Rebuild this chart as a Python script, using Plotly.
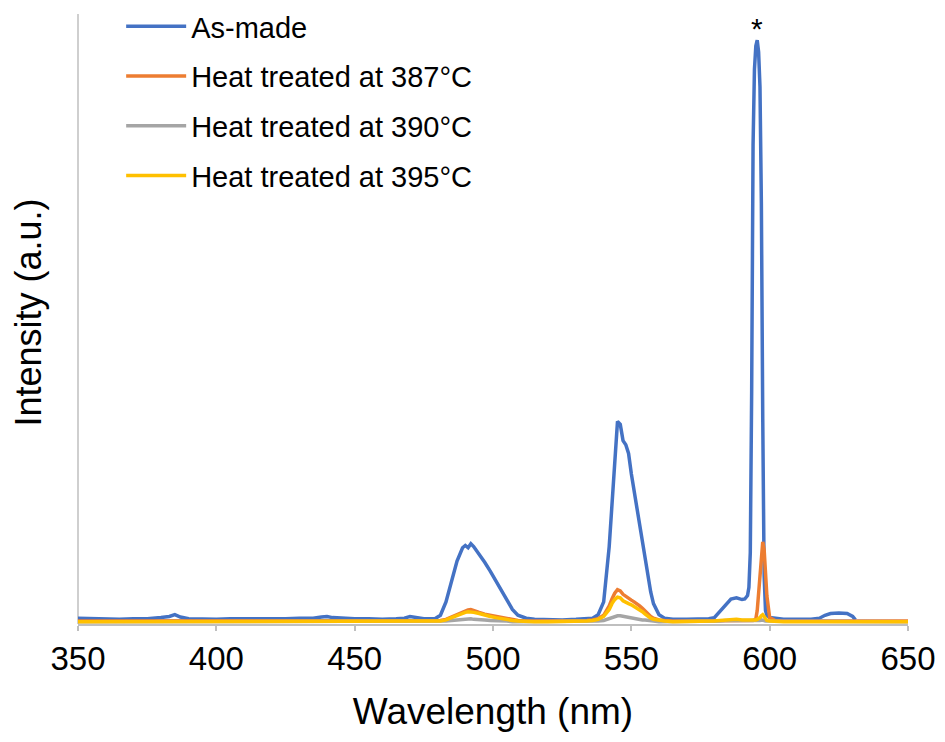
import plotly.graph_objects as go

# Wavelength grid (nm)
wavelength = [
    350, 355, 360, 365, 370, 375, 380, 383, 385, 387, 390, 395, 400, 405, 410, 415, 420, 425, 430, 435,
    438, 440, 442, 445, 450, 455, 460, 465, 468, 470, 472, 475, 479,
    481, 483, 485, 487, 489, 490, 491, 492, 493, 495, 497, 499, 501, 503, 505, 507, 509, 512, 515,
    520, 525, 530, 534, 536, 538, 540, 542, 543, 544, 545, 546, 547, 548, 549, 550, 551, 552, 553, 554,
    555, 556, 557, 558, 560, 562, 565,
    570, 575, 578, 580, 582, 584, 586, 588, 590, 591, 592, 592.5, 593, 593.5, 594, 594.5, 595, 595.5,
    596, 596.5, 597, 597.5, 598, 598.5, 599, 600,
    602, 605, 610, 615, 618, 620, 622, 625, 628, 630, 631, 635, 640, 645, 650,
]

as_made = [
    0.007, 0.006, 0.006, 0.005, 0.006, 0.006, 0.008, 0.010, 0.013, 0.009, 0.006, 0.005, 0.005, 0.006, 0.006, 0.005, 0.006, 0.006, 0.007, 0.007,
    0.009, 0.010, 0.008, 0.007, 0.006, 0.006, 0.005, 0.006, 0.007, 0.010, 0.008, 0.006, 0.006,
    0.012, 0.035, 0.070, 0.105, 0.128, 0.132, 0.128, 0.135, 0.130, 0.117, 0.103, 0.088, 0.072, 0.055, 0.038, 0.022, 0.012, 0.007, 0.005,
    0.004, 0.004, 0.005, 0.006, 0.007, 0.013, 0.035, 0.130, 0.210, 0.290, 0.345, 0.340, 0.312, 0.305, 0.290, 0.255, 0.225, 0.195, 0.165, 0.135,
    0.105, 0.078, 0.052, 0.032, 0.013, 0.007, 0.005,
    0.005, 0.005, 0.006, 0.008, 0.018, 0.030, 0.040, 0.042, 0.039, 0.040, 0.046, 0.060, 0.120, 0.400, 0.820, 0.950, 0.990, 1.000,
    0.980, 0.920, 0.720, 0.350, 0.080, 0.020, 0.012, 0.008,
    0.007, 0.005, 0.005, 0.005, 0.007, 0.012, 0.015, 0.016, 0.015, 0.010, 0.004, None, None, None, None,
]

heat_387 = [
    0.002, 0.002, 0.002, 0.002, 0.002, 0.002, 0.002, 0.002, 0.003, 0.002, 0.002, 0.002, 0.002, 0.002, 0.002, 0.002, 0.002, 0.002, 0.002, 0.002,
    0.002, 0.002, 0.002, 0.002, 0.002, 0.002, 0.002, 0.002, 0.002, 0.002, 0.002, 0.002, 0.002,
    0.003, 0.005, 0.009, 0.014, 0.018, 0.020, 0.021, 0.022, 0.020, 0.017, 0.014, 0.012, 0.010, 0.008, 0.006, 0.004, 0.003, 0.002, 0.002,
    0.002, 0.002, 0.002, 0.003, 0.004, 0.006, 0.012, 0.028, 0.040, 0.050, 0.056, 0.054, 0.048, 0.044, 0.041, 0.038, 0.035, 0.032, 0.028, 0.024,
    0.019, 0.014, 0.010, 0.007, 0.004, 0.003, 0.002,
    0.002, 0.002, 0.002, 0.002, 0.003, 0.003, 0.003, 0.003, 0.003, 0.003, 0.003, 0.003, 0.003, 0.003, 0.003, 0.004, 0.006, 0.020,
    0.050, 0.080, 0.110, 0.138, 0.125, 0.090, 0.045, 0.008,
    0.003, 0.002, 0.002, 0.002, 0.002, 0.003, 0.003, 0.003, 0.003, 0.002, 0.002, 0.002, 0.002, 0.002, 0.002,
]

heat_390 = [
    0.001, 0.001, 0.001, 0.001, 0.001, 0.001, 0.001, 0.001, 0.001, 0.001, 0.001, 0.001, 0.001, 0.001, 0.001, 0.001, 0.001, 0.001, 0.001, 0.001,
    0.001, 0.001, 0.001, 0.001, 0.001, 0.001, 0.001, 0.001, 0.001, 0.001, 0.001, 0.001, 0.001,
    0.001, 0.002, 0.003, 0.004, 0.005, 0.005, 0.006, 0.006, 0.005, 0.005, 0.004, 0.003, 0.003, 0.002, 0.002, 0.001, 0.001, 0.001, 0.001,
    0.001, 0.001, 0.001, 0.001, 0.002, 0.002, 0.003, 0.006, 0.008, 0.010, 0.011, 0.011, 0.010, 0.009, 0.008, 0.008, 0.007, 0.006, 0.005, 0.004,
    0.004, 0.003, 0.002, 0.002, 0.001, 0.001, 0.001,
    0.001, 0.001, 0.001, 0.002, 0.002, 0.003, 0.003, 0.003, 0.002, 0.002, 0.002, 0.002, 0.002, 0.002, 0.002, 0.002, 0.002, 0.003,
    0.003, 0.003, 0.004, 0.004, 0.003, 0.002, 0.002, 0.001,
    0.001, 0.001, 0.001, 0.001, 0.001, 0.001, 0.002, 0.002, 0.002, 0.001, 0.001, 0.001, 0.001, 0.001, 0.001,
]

heat_395 = [
    0.001, 0.001, 0.001, 0.001, 0.001, 0.001, 0.001, 0.001, 0.001, 0.001, 0.001, 0.001, 0.001, 0.001, 0.001, 0.001, 0.001, 0.001, 0.001, 0.001,
    0.001, 0.001, 0.001, 0.001, 0.001, 0.001, 0.001, 0.001, 0.001, 0.001, 0.001, 0.001, 0.001,
    0.002, 0.004, 0.008, 0.012, 0.015, 0.017, 0.018, 0.018, 0.017, 0.015, 0.012, 0.010, 0.008, 0.006, 0.005, 0.003, 0.002, 0.001, 0.001,
    0.001, 0.001, 0.001, 0.002, 0.003, 0.005, 0.010, 0.022, 0.032, 0.039, 0.043, 0.042, 0.037, 0.034, 0.032, 0.030, 0.027, 0.025, 0.022, 0.018,
    0.014, 0.010, 0.007, 0.005, 0.003, 0.002, 0.001,
    0.001, 0.001, 0.002, 0.002, 0.003, 0.004, 0.005, 0.005, 0.004, 0.004, 0.004, 0.003, 0.003, 0.003, 0.003, 0.003, 0.004, 0.005,
    0.006, 0.008, 0.011, 0.013, 0.010, 0.005, 0.003, 0.002,
    0.001, 0.001, 0.001, 0.001, 0.001, 0.001, 0.002, 0.002, 0.002, 0.001, 0.001, 0.001, 0.001, 0.001, 0.001,
]

series_names = ["As-made", "Heat treated at 387°C", "Heat treated at 390°C", "Heat treated at 395°C"]
series_values = [as_made, heat_387, heat_390, heat_395]
series_colors = ["#4472C4", "#ED7D31", "#A5A5A5", "#FFC000"]

x_ticks = [350, 400, 450, 500, 550, 600, 650]
peak_marker_x = 595.5
peak_marker_y = 1.02

FONT = "Arial, Liberation Sans, sans-serif"
AXIS_GRAY = "#BFBFBF"

fig = go.Figure()
for i, (name, vals, col) in enumerate(zip(series_names, series_values, series_colors)):
    fig.add_trace(go.Scatter(
        x=wavelength, y=vals, name=name, mode="lines",
        line=dict(color=col, width=3.5), legendgroup=f"g{i}",
    ))

fig.add_annotation(x=peak_marker_x, y=peak_marker_y, text="*", showarrow=False,
                   font=dict(family=FONT, size=30, color="#000000"), yanchor="middle")

# vertical axis line (stops a little below the top of the frame, as in the original)
fig.add_shape(type="line", xref="paper", yref="paper", x0=0, x1=0, y0=0, y1=0.979,
              line=dict(color=AXIS_GRAY, width=1.5), layer="below")

fig.update_layout(
    width=945, height=742,
    margin=dict(l=78, r=37, t=1, b=118),
    paper_bgcolor="white", plot_bgcolor="white",
    font=dict(family=FONT, color="#000000"),
    showlegend=True,
    legend=dict(
        x=0.052, y=1.0, xanchor="left", yanchor="top",
        font=dict(family=FONT, size=29, color="#000000"),
        bgcolor="rgba(0,0,0,0)", borderwidth=0,
        traceorder="grouped", tracegroupgap=9, itemwidth=60,
    ),
    xaxis=dict(
        range=[350, 650], tickvals=x_ticks, ticktext=[str(t) for t in x_ticks],
        showgrid=False, zeroline=False,
        showline=True, linecolor=AXIS_GRAY, linewidth=1.5,
        ticks="outside", ticklen=5, tickcolor=AXIS_GRAY, tickwidth=1.5,
        tickfont=dict(family=FONT, size=33, color="#000000"),
        title=dict(text="Wavelength (nm)", font=dict(family=FONT, size=37, color="#000000"), standoff=22),
        layer="below traces",
    ),
    yaxis=dict(
        range=[-0.003, 1.0674], showgrid=False, zeroline=False,
        showline=False,
        showticklabels=False, ticks="",
        title=dict(text="Intensity (a.u.)", font=dict(family=FONT, size=36, color="#000000"), standoff=24),
        layer="below traces",
    ),
)

fig.write_html("out.html")
